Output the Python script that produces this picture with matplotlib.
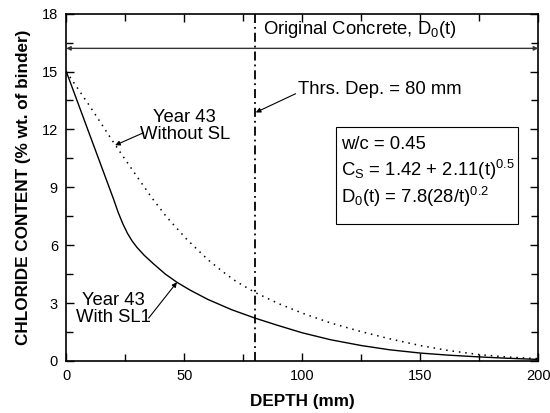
import matplotlib
matplotlib.use("Agg")
import matplotlib.pyplot as plt
from matplotlib.patches import Rectangle
from matplotlib.ticker import MultipleLocator

plt.rcParams['font.family'] = ['Liberation Sans', 'DejaVu Sans']
plt.rcParams['mathtext.fontset'] = 'custom'
plt.rcParams['mathtext.rm'] = 'Liberation Sans'
plt.rcParams['mathtext.it'] = 'Liberation Sans:italic'
plt.rcParams['mathtext.bf'] = 'Liberation Sans:bold'

# Year 43 with SL1 (solid)
sl1_depth = [0, 5, 10, 15, 20, 22, 24, 26, 28, 30, 33, 37, 42, 47, 52.5,
             60, 70, 80, 90, 100, 112, 125, 137, 150, 162, 175, 187, 200]
sl1_cl = [15.0, 13.35, 11.7, 10.05, 8.4, 7.7, 7.1, 6.6, 6.2, 5.88, 5.48,
          5.03, 4.5, 4.07, 3.67, 3.19, 2.66, 2.22, 1.83, 1.46, 1.1, 0.8,
          0.58, 0.41, 0.3, 0.21, 0.14, 0.08]

# Year 43 without SL (dotted)
nosl_depth = [0, 10, 20.7, 30, 36.3, 42.6, 51.1, 60, 66.6, 72, 80, 90,
              100, 112, 125, 137, 150, 162, 175, 187, 200]
nosl_cl = [15.0, 13.2, 11.2, 9.55, 8.45, 7.45, 6.3, 5.25, 4.6, 4.12, 3.55,
           2.97, 2.48, 1.97, 1.52, 1.15, 0.8, 0.54, 0.33, 0.2, 0.12]

threshold_depth = 80
original_level = 16.2

xticks = [0, 50, 100, 150, 200]
yticks = [0, 3, 6, 9, 12, 15, 18]

fig = plt.figure(figsize=(5.5, 4.13), dpi=100)
ax = fig.add_axes([0.1205, 0.126, 0.858, 0.841])

ax.plot(sl1_depth, sl1_cl, color='black', lw=1.0)
ax.plot(nosl_depth, nosl_cl, color='black', lw=1.1, linestyle=(0, (1, 3.2)))
ax.plot([threshold_depth, threshold_depth], [0, 18], color='black', lw=1.3,
        linestyle=(0, (5, 2.2, 1, 2.2)))

# original concrete line with arrows at both ends
ax.annotate('', xy=(0, original_level), xytext=(200, original_level),
            arrowprops=dict(arrowstyle='<|-|>', color='#333333', lw=1.0,
                            mutation_scale=6, shrinkA=0, shrinkB=0))

fs = 13.3
ax.text(83.5, 16.94, 'Original Concrete, D$_0$(t)', fontsize=fs, ha='left', va='baseline')
ax.text(98.2, 13.82, 'Thrs. Dep. = 80 mm', fontsize=fs, ha='left', va='baseline')
ax.annotate('', xy=(80.3, 12.88), xytext=(97.2, 13.85),
            arrowprops=dict(arrowstyle='-|>', color='black', lw=0.8,
                            mutation_scale=7, shrinkA=0, shrinkB=0))

ax.text(50.2, 12.17, 'Year 43\nWithout SL', fontsize=fs, ha='center', va='center',
        linespacing=1.0, multialignment='center')
ax.annotate('', xy=(20.7, 11.18), xytext=(32.8, 11.83),
            arrowprops=dict(arrowstyle='-|>', color='black', lw=0.8,
                            mutation_scale=7, shrinkA=0, shrinkB=0))

ax.text(20.0, 2.7, 'Year 43\nWith SL1', fontsize=fs, ha='center', va='center',
        linespacing=1.0, multialignment='center')
ax.annotate('', xy=(46.9, 4.08), xytext=(34.9, 2.22),
            arrowprops=dict(arrowstyle='-|>', color='black', lw=0.8,
                            mutation_scale=7, shrinkA=0, shrinkB=0))

ax.add_patch(Rectangle((114.4, 7.1), 77.0, 5.05, fill=False, edgecolor='black', lw=0.8))
ax.text(116.3, 11.0, 'w/c = 0.45', fontsize=fs, ha='left', va='baseline')
ax.text(116.3, 9.6, 'C$_\\mathrm{S}$ = 1.42 + 2.11(t)$^{0.5}$', fontsize=fs, ha='left', va='baseline')
ax.text(116.6, 8.2, 'D$_0$(t) = 7.8(28/t)$^{0.2}$', fontsize=fs, ha='left', va='baseline')

ax.set_xlim(0, 200)
ax.set_ylim(0, 18)
ax.set_xticks(xticks)
ax.set_yticks(yticks)
ax.xaxis.set_minor_locator(MultipleLocator(25))
ax.yaxis.set_minor_locator(MultipleLocator(1.5))
ax.tick_params(which='both', direction='in', top=True, right=True, labelsize=10.5,
               width=1.0, color='black')
ax.tick_params(which='major', length=6, pad=6)
ax.tick_params(which='minor', length=5)
for s in ax.spines.values():
    s.set_linewidth(1.2)

ax.set_xlabel('DEPTH (mm)', fontsize=12.3, fontweight='bold', labelpad=8)
ax.set_ylabel('CHLORIDE CONTENT (% wt. of binder)', fontsize=12.3, fontweight='bold', labelpad=8)

fig.savefig('out.png', dpi=100)
